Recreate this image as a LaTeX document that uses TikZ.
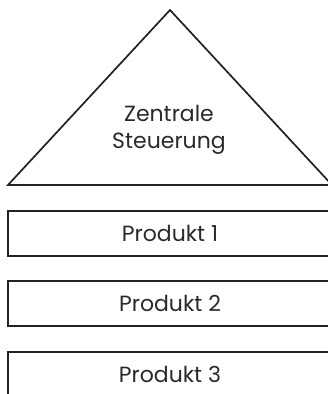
\documentclass[tikz,border=0pt]{standalone}
\usepackage{fontspec}
\setmainfont{Poppins}
\usepackage{tikz}
\usetikzlibrary{positioning}
\definecolor{linegray}{HTML}{222222}
\definecolor{textgray}{HTML}{2A2A2A}

\begin{document}
\begin{tikzpicture}[x=1pt, y=-1pt, every node/.style={font=\fontsize{22}{27}\selectfont, text=textgray},
	layer/.style={draw=linegray, line width=1.7pt, minimum width=324pt, minimum height=45pt, inner sep=0pt}]
	\useasboundingbox (0,0) rectangle (328,394);
	\clip (0,0) rectangle (328,394);
	\coordinate (apex) at (170,10);
	\coordinate (baseL) at (8,185);
	\coordinate (baseR) at (332,185);
	\draw[linegray, line width=1.7pt, line join=miter] (baseL) -- (apex) -- (baseR) -- cycle;
	\node[align=center] (zentrale) at (169,130) {Zentrale\\Steuerung};
	\node[layer] (prod1) at (170,233.5) {Produkt 1};
	\node[layer] (prod2) at (170,303.5) {Produkt 2};
	\node[layer] (prod3) at (170,374.5) {Produkt 3};
\end{tikzpicture}
\end{document}
